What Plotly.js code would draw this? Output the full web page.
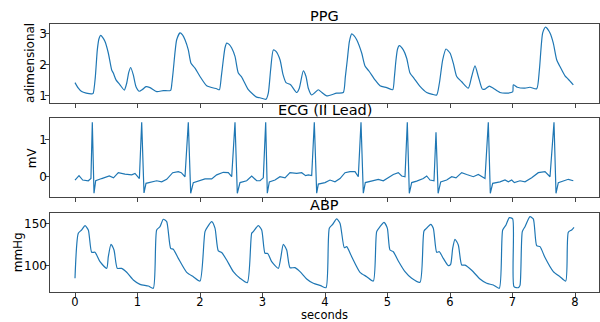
<!DOCTYPE html>
<html>
<head>
<meta charset="utf-8">
<script src="https://cdn.plot.ly/plotly-3.0.1.min.js"></script>
<style>html,body{margin:0;padding:0;background:#fff;}#chart{width:600px;height:322px;}</style>
</head>
<body>
<div id="chart"></div>
<script>
// ---------- data ----------
const ppgTime = [0.00,0.05,0.107,0.18,0.267,0.29,0.325,0.357,0.385,0.41,0.445,0.48,0.533,0.587,0.613,0.656,0.72,0.789,0.827,0.86,0.891,0.933,0.976,1.03,1.08,1.136,1.2,1.307,1.413,1.53,1.55,1.573,1.6,1.627,1.68,1.72,1.76,1.813,1.856,1.92,2.0,2.107,2.267,2.31,2.34,2.373,2.40,2.427,2.47,2.507,2.56,2.613,2.667,2.773,2.86,2.907,2.96,3.056,3.093,3.13,3.173,3.216,3.28,3.33,3.376,3.45,3.547,3.589,3.653,3.696,3.733,3.787,3.84,3.893,3.95,4.027,4.187,4.293,4.325,4.357,4.39,4.427,4.46,4.507,4.587,4.64,4.709,4.8,4.88,4.987,5.083,5.11,5.136,5.16,5.189,5.253,5.307,5.36,5.424,5.52,5.627,5.72,5.787,5.83,5.883,5.936,6.0,6.053,6.107,6.187,6.293,6.347,6.4,6.453,6.517,6.56,6.629,6.693,6.8,6.907,7.003,7.013,7.077,7.2,7.28,7.387,7.43,7.483,7.53,7.6,7.653,7.707,7.76,7.84,7.893,7.973];
const ppgValue = [1.42,1.25,1.13,1.08,1.055,1.07,1.6,2.48,2.85,2.95,2.88,2.75,2.38,1.83,1.73,1.51,1.35,1.18,1.40,1.75,1.91,1.67,1.29,1.14,1.2,1.29,1.26,1.13,1.16,1.17,1.4,1.83,2.4,2.81,3.03,2.97,2.81,2.48,2.05,1.89,1.62,1.32,1.22,1.19,1.6,2.16,2.55,2.70,2.65,2.54,2.27,1.73,1.60,1.19,1.02,0.95,0.93,0.88,1.08,1.83,2.48,2.43,2.16,1.67,1.42,1.35,1.10,1.24,1.80,1.62,1.24,1.02,1.1,1.19,1.1,0.99,1.08,1.10,1.6,2.16,2.75,3.0,2.95,2.81,2.38,1.96,1.78,1.51,1.32,1.26,1.19,1.6,2.16,2.5,2.62,2.48,2.21,1.73,1.56,1.30,1.10,1.04,1.02,1.40,2.16,2.51,2.38,2.05,1.62,1.45,1.24,1.62,1.96,1.62,1.21,1.21,1.31,1.24,1.10,1.08,1.12,1.35,1.27,1.24,1.27,1.22,1.83,3.03,3.22,3.03,2.70,2.16,1.94,1.64,1.53,1.35];

const ecgTime = [0.0,0.064,0.123,0.213,0.255,0.277,0.304,0.331,0.427,0.549,0.616,0.693,0.8,0.907,0.96,1.03,1.067,1.104,1.136,1.2,1.307,1.387,1.467,1.563,1.653,1.7,1.76,1.813,1.851,1.893,2.0,2.08,2.187,2.267,2.373,2.453,2.507,2.56,2.597,2.64,2.747,2.827,2.907,2.96,3.013,3.051,3.077,3.109,3.2,3.28,3.36,3.44,3.547,3.627,3.69,3.733,3.787,3.829,3.867,3.893,4.0,4.08,4.16,4.24,4.32,4.4,4.48,4.533,4.576,4.613,4.645,4.773,4.853,4.933,5.013,5.093,5.173,5.227,5.28,5.317,5.349,5.387,5.467,5.573,5.627,5.68,5.744,5.776,5.81,5.851,5.947,6.027,6.096,6.187,6.267,6.373,6.453,6.507,6.56,6.613,6.645,6.683,6.8,6.88,6.933,6.987,7.03,7.12,7.2,7.307,7.413,7.52,7.6,7.664,7.696,7.733,7.813,7.893,7.973];
const ecgValue = [-0.09,0.03,-0.09,-0.11,-0.05,1.48,-0.45,-0.11,-0.05,0.02,-0.03,0.11,0.07,0.05,0.09,-0.05,1.48,-0.44,-0.18,-0.15,-0.11,-0.14,-0.07,0.11,0.14,0.11,0.00,1.48,-0.45,-0.16,-0.11,-0.06,-0.06,0.05,0.12,0.11,0.00,1.48,-0.45,-0.16,-0.11,0.02,-0.11,-0.11,-0.03,1.48,-0.45,-0.14,-0.09,0.00,-0.03,0.11,0.09,0.11,0.03,0.05,0.03,1.48,-0.45,-0.2,-0.16,-0.09,-0.14,-0.05,0.11,0.14,0.14,0.00,1.48,-0.45,-0.16,-0.11,-0.07,-0.11,-0.03,0.06,0.11,0.02,0.00,1.48,-0.45,-0.16,-0.12,-0.05,0.02,-0.09,-0.11,1.21,-0.45,-0.14,-0.09,0.00,-0.03,0.11,0.06,0.00,0.06,0.00,-0.05,1.48,-0.45,-0.18,-0.14,-0.09,-0.14,-0.09,-0.16,-0.11,-0.14,-0.03,0.11,0.14,0.00,1.48,-0.45,-0.16,-0.11,-0.07,-0.11];

const abpTime = [0.0,0.053,0.107,0.16,0.213,0.267,0.32,0.4,0.507,0.533,0.576,0.624,0.677,0.747,0.827,0.933,1.04,1.173,1.253,1.307,1.36,1.413,1.467,1.531,1.573,1.653,1.787,1.893,2.0,2.08,2.123,2.187,2.24,2.293,2.347,2.427,2.533,2.64,2.757,2.827,2.853,2.933,2.987,3.04,3.083,3.147,3.253,3.291,3.333,3.387,3.44,3.52,3.6,3.707,3.813,3.931,4.016,4.069,4.123,4.187,4.24,4.309,4.347,4.427,4.56,4.667,4.773,4.827,4.88,4.944,4.997,5.04,5.093,5.173,5.28,5.387,5.52,5.584,5.627,5.691,5.733,5.787,5.829,5.893,5.973,6.01,6.043,6.08,6.133,6.187,6.24,6.347,6.48,6.587,6.693,6.789,6.843,6.896,6.949,7.003,7.024,7.093,7.12,7.157,7.2,7.28,7.333,7.387,7.44,7.52,7.653,7.76,7.851,7.893,7.947,7.984];
const abpValue = [85.4,138.9,142.9,148,142.9,116.3,116.3,105.1,97.2,111.1,125.8,119,97.2,97.2,92.5,83.3,78.2,76.2,73.5,142.9,146.8,155.6,152.8,121,120,109.1,92.5,87.3,82.1,140.9,146.8,152.8,145,117.9,116,107.1,93.3,85.4,80.2,138.9,141,148,142.9,115.1,115,105.1,97.2,109.1,125.8,119,98,98,93.3,84.6,79.4,76.6,74.2,144.9,149.6,156,151,121.8,123,111.1,92.5,87.3,82.1,140.9,146.8,152,145,119,117,106,93.3,85.4,80.6,141.7,145,149.6,145,116.3,117,109.1,100.4,102,121,131.7,125,101.2,101,95,84.5,79.4,77.4,73.5,142.9,148.8,157.5,156,75.4,74.2,77,140.9,146.8,158.7,156,124.2,123,110,93.3,87.3,82.1,140.1,142.9,146];

const panelTitles = ['PPG', 'ECG (II Lead)', 'ABP'];
const yTitles = ['adimensional', 'mV', 'mmHg'];
const xTitle = 'seconds';
const xTickVals = [0,1,2,3,4,5,6,7,8];
const ppgTicks = [1,2,3];
const ecgTicks = [0,1];
const abpTicks = [100,150];

// ---------- layout ----------
const W = 600, H = 322;
const FONT = '"DejaVu Sans", sans-serif';
const lineColor = '#1f77b4';
const frameColor = '#444';
const px = (p) => p / W;
const py = (p) => 1 - p / H;

// panel pixel extents (top, bottom)
const panels = [[24, 103], [118.3, 197.3], [213.3, 292.3]];
const xDomain = [px(50), px(599)];
const xRange = [-0.4, 8.384];
const yRanges = [[0.76, 3.32], [-0.56, 1.59], [68.7, 162.7]];
const yTickSets = [ppgTicks, ecgTicks, abpTicks];
const TICK = 12;

function frameAxis(extra) {
  return Object.assign({
    ticks: 'outside', ticklen: 4, tickwidth: 1, tickcolor: frameColor,
    showline: true, linecolor: frameColor, linewidth: 1, mirror: true,
    showgrid: false, zeroline: false, showticklabels: false
  }, extra);
}
function labelAxis(extra) {
  return Object.assign({
    ticks: '', showline: false, showgrid: false, zeroline: false,
    showticklabels: true, anchor: 'free',
    tickfont: {family: FONT, size: TICK, color: '#000'}
  }, extra);
}

const layout = {
  width: W, height: H,
  margin: {l: 0, r: 0, t: 0, b: 0, pad: 0},
  paper_bgcolor: '#fff', plot_bgcolor: '#fff',
  showlegend: false,
  font: {family: FONT, size: 12, color: '#000'}
};
['', '2', '3'].forEach((s, i) => {
  const yd = [py(panels[i][1]), py(panels[i][0])];
  layout['xaxis' + s] = frameAxis({domain: xDomain, range: xRange, anchor: 'y' + s, tickvals: xTickVals});
  layout['yaxis' + s] = frameAxis({domain: yd, range: yRanges[i], anchor: 'x' + s, tickvals: yTickSets[i]});
  // label-only overlay y axis, placed freely for exact label position
  layout['yaxis' + (4 + i)] = labelAxis({domain: yd, range: yRanges[i], overlaying: 'y' + s, side: 'left',
    position: px(47), tickvals: yTickSets[i]});
});
// label-only overlay x axis for the bottom panel
layout.xaxis4 = labelAxis({domain: xDomain, range: xRange, overlaying: 'x3', side: 'bottom',
  position: py(293.2), tickvals: xTickVals, tickfont: {family: FONT, size: 11.5, color: '#000'}});

const smoothLine = {color: lineColor, width: 1.2, shape: 'spline', smoothing: 0.6};
const traces = [
  {x: ppgTime, y: ppgValue, xaxis: 'x', yaxis: 'y', type: 'scatter', mode: 'lines', line: smoothLine},
  {x: ecgTime, y: ecgValue, xaxis: 'x2', yaxis: 'y2', type: 'scatter', mode: 'lines', line: {color: lineColor, width: 1.2}},
  {x: abpTime, y: abpValue, xaxis: 'x3', yaxis: 'y3', type: 'scatter', mode: 'lines', line: smoothLine},
  // invisible helpers so the label-only axes are drawn
  {x: [], y: [], xaxis: 'x', yaxis: 'y4', type: 'scatter', mode: 'lines', hoverinfo: 'skip'},
  {x: [], y: [], xaxis: 'x2', yaxis: 'y5', type: 'scatter', mode: 'lines', hoverinfo: 'skip'},
  {x: [], y: [], xaxis: 'x4', yaxis: 'y6', type: 'scatter', mode: 'lines', hoverinfo: 'skip'}
];

const cx = (50 + 599) / 2;
const annotations = [];
panelTitles.forEach((t, i) => {
  annotations.push({text: t, xref: 'paper', yref: 'paper', x: px(cx), y: py(panels[i][0] - 8.5),
    xanchor: 'center', yanchor: 'middle', showarrow: false, font: {family: FONT, size: 14.5, color: '#000'}});
});
const yTitleX = [30.5, 31.5, 17.5];
yTitles.forEach((t, i) => {
  annotations.push({text: t, xref: 'paper', yref: 'paper', x: px(yTitleX[i]), y: py((panels[i][0] + panels[i][1]) / 2),
    xanchor: 'center', yanchor: 'middle', textangle: -90, showarrow: false, font: {family: FONT, size: 12, color: '#000'}});
});
annotations.push({text: xTitle, xref: 'paper', yref: 'paper', x: px(cx), y: py(322),
  xanchor: 'center', yanchor: 'bottom', yshift: -1.5, showarrow: false, font: {family: FONT, size: 11.5, color: '#000'}});
layout.annotations = annotations;

Plotly.newPlot('chart', traces, layout, {staticPlot: true, displayModeBar: false});
</script>
</body>
</html>
